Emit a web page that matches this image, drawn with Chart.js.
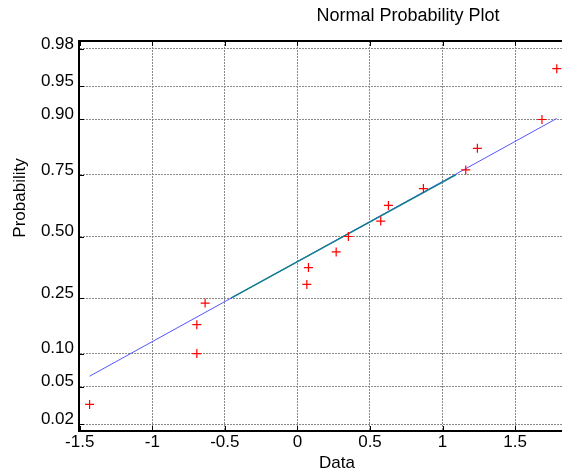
<!DOCTYPE html>
<html>
<head>
<meta charset="utf-8">
<script src="https://cdn.jsdelivr.net/npm/chart.js@4/dist/chart.umd.min.js"></script>
<style>
  html, body { margin: 0; padding: 0; background: #fff; overflow: hidden; }
</style>
</head>
<body>
<canvas id="npp-chart" width="562" height="475"></canvas>
<script>
// sample values (sorted) and their plotting probabilities
const sampleData = [-1.432, -0.693, -0.693, -0.636, 0.065, 0.076, 0.267, 0.351, 0.574, 0.627, 0.868, 1.160, 1.240, 1.685, 1.787];
const sampleProb = [0.033, 0.100, 0.167, 0.233, 0.300, 0.367, 0.433, 0.500, 0.567, 0.633, 0.700, 0.767, 0.833, 0.900, 0.967];

// reference line, full extent and the part between the quartiles
const fitX = [-1.432, 1.787];
const fitProb = [0.063, 0.902];
const quartileX = [-0.458, 1.091];
const quartileProb = [0.25, 0.75];

// axis ticks
const xTicks = [-1.5, -1, -0.5, 0, 0.5, 1, 1.5];
const xTickLabels = ['-1.5', '-1', '-0.5', '0', '0.5', '1', '1.5'];
const yTickProb = [0.02, 0.05, 0.10, 0.25, 0.50, 0.75, 0.90, 0.95, 0.98];
const yTickLabels = ['0.02', '0.05', '0.10', '0.25', '0.50', '0.75', '0.90', '0.95', '0.98'];

// inverse normal cdf (Acklam) -> probability axis is linear in z
function probit(p) {
    var a = [-3.969683028665376e+01, 2.209460984245205e+02, -2.759285104469687e+02, 1.383577518672690e+02, -3.066479806614716e+01, 2.506628277459239e+00];
    var b = [-5.447609879822406e+01, 1.615858368580409e+02, -1.556989798598866e+02, 6.680131188771972e+01, -1.328068155288572e+01];
    var c = [-7.784894002430293e-03, -3.223964580411365e-01, -2.400758277161838e+00, -2.549732539343734e+00, 4.374664141464968e+00, 2.938163982698783e+00];
    var d = [7.784695709041462e-03, 3.224671290700398e-01, 2.445134137142996e+00, 3.754408661907416e+00];
    var pl = 0.02425, q, r;
    if (p < pl) {
        q = Math.sqrt(-2 * Math.log(p));
        return (((((c[0]*q+c[1])*q+c[2])*q+c[3])*q+c[4])*q+c[5]) / ((((d[0]*q+d[1])*q+d[2])*q+d[3])*q+1);
    }
    if (p > 1 - pl) {
        q = Math.sqrt(-2 * Math.log(1 - p));
        return -(((((c[0]*q+c[1])*q+c[2])*q+c[3])*q+c[4])*q+c[5]) / ((((d[0]*q+d[1])*q+d[2])*q+d[3])*q+1);
    }
    q = p - 0.5;
    r = q * q;
    return (((((a[0]*r+a[1])*r+a[2])*r+a[3])*r+a[4])*r+a[5])*q / (((((b[0]*r+b[1])*r+b[2])*r+b[3])*r+b[4])*r+1);
}

function toPoints(xs, ps) {
    return xs.map((x, i) => ({ x: x, y: probit(ps[i]) }));
}

const fontFamily = "'Liberation Sans', Arial, Helvetica, sans-serif";
Chart.defaults.font.family = fontFamily;
Chart.defaults.color = '#000';

// frame line on top, inward ticks and the text labels
const framePlugin = {
    id: 'frame',
    afterDraw(chart) {
        const ctx = chart.ctx;
        const area = chart.chartArea;
        const xs = chart.scales.x, ys = chart.scales.y;
        ctx.save();
        ctx.strokeStyle = '#000';
        ctx.lineWidth = 2;
        ctx.beginPath();
        ctx.moveTo(area.left - 1, area.top);
        ctx.lineTo(area.right, area.top);
        ctx.stroke();

        ctx.lineWidth = 1;
        ctx.beginPath();
        xTicks.forEach(function(v) {
            var px = Math.round(xs.getPixelForValue(v)) + 0.5;
            ctx.moveTo(px, area.bottom);
            ctx.lineTo(px, area.bottom - 5);
            ctx.moveTo(px, area.top);
            ctx.lineTo(px, area.top + 5);
        });
        yTickProb.forEach(function(p) {
            var py = Math.round(ys.getPixelForValue(probit(p))) + 0.5;
            ctx.moveTo(area.left, py);
            ctx.lineTo(area.left + 5, py);
        });
        ctx.stroke();

        ctx.fillStyle = '#000';
        ctx.textAlign = 'center';
        ctx.textBaseline = 'middle';
        ctx.font = '18px ' + fontFamily;
        ctx.fillText('Normal Probability Plot', 408, 16);
        ctx.font = '17px ' + fontFamily;
        ctx.fillText('Data', 337, 463);
        ctx.translate(20, 198);
        ctx.rotate(-Math.PI / 2);
        ctx.fillText('Probability', 0, 0);
        ctx.restore();
    }
};

function noPadding(scale) {
    scale.paddingLeft = 0;
    scale.paddingRight = 0;
    scale.paddingTop = 0;
    scale.paddingBottom = 0;
}

var nppCtx = document.getElementById('npp-chart').getContext('2d');
var nppChart = new Chart(nppCtx, {
    type: 'scatter',
    data: {
        datasets: [{
            label: 'Data',
            data: toPoints(sampleData, sampleProb),
            pointStyle: 'cross',
            pointRadius: 4.5,
            borderColor: '#ff0000',
            backgroundColor: '#ff0000',
            borderWidth: 1.2,
            showLine: false
        }, {
            label: 'Quartile line',
            data: toPoints(quartileX, quartileProb),
            showLine: true,
            pointRadius: 0,
            borderColor: '#127f8c',
            borderWidth: 1.6
        }, {
            label: 'Fit line',
            data: toPoints(fitX, fitProb),
            showLine: true,
            pointRadius: 0,
            borderColor: '#5555ff',
            borderWidth: 1
        }]
    },
    options: {
        responsive: false,
        animation: false,
        layout: { autoPadding: false, padding: { top: 41, left: 0, right: 0, bottom: 0 } },
        plugins: {
            legend: { display: false },
            tooltip: { enabled: false },
            title: { display: false }
        },
        scales: {
            x: {
                type: 'linear',
                min: -1.505,
                max: 1.823,
                afterFit: function(scale) { scale.height = 44; noPadding(scale); },
                afterBuildTicks: function(scale) {
                    scale.ticks = xTicks.map(v => ({ value: v }));
                },
                ticks: {
                    padding: 1,
                    font: { size: 17 },
                    color: '#000',
                    maxRotation: 0,
                    callback: function(value, index) { return xTickLabels[index]; }
                },
                grid: { color: '#8a8a8a', lineWidth: 1, drawTicks: false },
                border: { display: true, color: '#000', width: 2, dash: [2, 1] }
            },
            y: {
                type: 'linear',
                min: -2.130,
                max: 2.141,
                afterFit: function(scale) { scale.width = 79; noPadding(scale); },
                afterBuildTicks: function(scale) {
                    scale.ticks = yTickProb.map(p => ({ value: probit(p) }));
                },
                ticks: {
                    padding: 5,
                    labelOffset: -5,
                    font: { size: 17 },
                    color: '#000',
                    callback: function(value, index) { return yTickLabels[index]; }
                },
                grid: { color: '#8a8a8a', lineWidth: 1, drawTicks: false },
                border: { display: true, color: '#000', width: 2, dash: [2, 1] }
            }
        }
    },
    plugins: [framePlugin]
});
</script>
</body>
</html>
